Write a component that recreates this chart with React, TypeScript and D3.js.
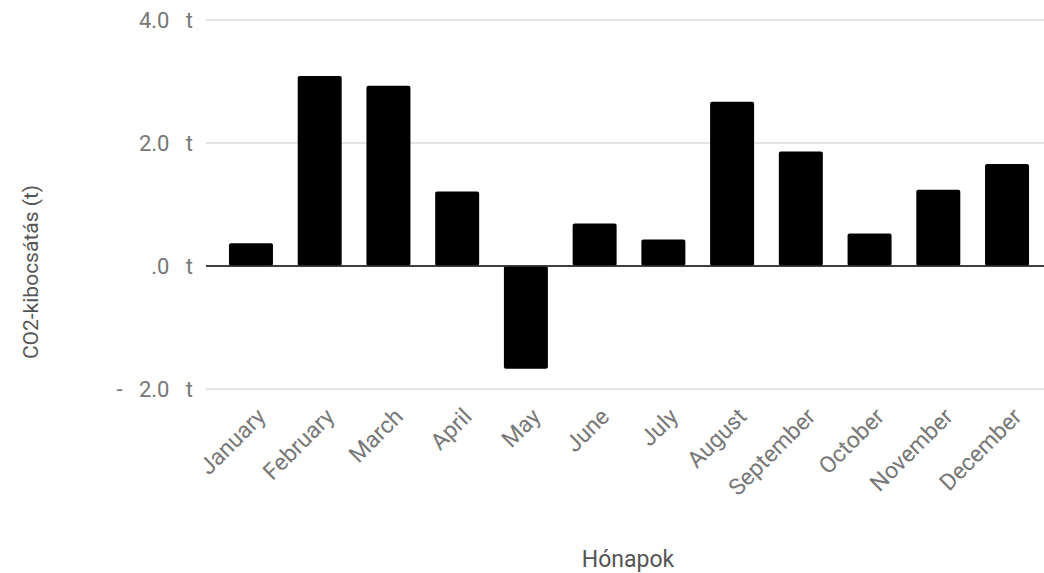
import React from "react";
import * as d3 from "d3";

const months = ["January","February","March","April","May","June","July","August","September","October","November","December"];
const values = [0.37, 3.09, 2.93, 1.21, -1.67, 0.69, 0.43, 2.67, 1.86, 0.53, 1.24, 1.66];
const yTicks = [-2, 0, 2, 4];
const yTickLabels = ["-   2.0   t", ".0   t", "2.0   t", "4.0   t"];
const xTitle = "Hónapok";
const yTitle = "CO2-kibocsátás (t)";

const W = 1044, H = 573;
const FONT = "Roboto, 'Noto Sans', sans-serif";

export default function App() {
  const x = d3.scaleBand<string>().domain(months).range([216.6, 1041.4]).paddingInner(0.36).paddingOuter(0.18);
  const y = d3.scaleLinear().domain([-2, 4]).range([389, 20]);
  return (
    <svg width={W} height={H} style={{ position: "absolute", left: 0, top: 0, background: "#fff" }}>
      {yTicks.map((t, i) => (
        <g key={t}>
          <line x1={206} x2={W} y1={y(t)} y2={y(t)} stroke={t === 0 ? "#333" : "#ccc"} strokeWidth={t === 0 ? 1.5 : 1.2} />
          <text x={193} y={y(t)} dy="0.36em" textAnchor="end" fontFamily={FONT} fontSize={22} fill="#777" style={{ whiteSpace: "pre" }}>{yTickLabels[i]}</text>
        </g>
      ))}
      {months.map((m, i) => {
        const v = values[i];
        const y0 = y(Math.max(0, v)), y1 = y(Math.min(0, v));
        return <rect key={m} x={x(m)} y={y0} width={x.bandwidth()} height={y1 - y0} rx={2} fill="#000" />;
      })}
      {yTicks.filter(t => t === 0).map(t => (
        <line key="zero" x1={206} x2={W} y1={y(t)} y2={y(t)} stroke="#333" strokeWidth={1.5} />
      ))}
      {months.map(m => {
        const cx = (x(m) as number) + x.bandwidth() / 2 + 16;
        const cy = 418;
        return (
          <text key={m} x={cx} y={cy} transform={`rotate(-45 ${cx} ${cy})`} textAnchor="end" fontFamily={FONT} fontSize={23} fill="#777">{m}</text>
        );
      })}
      <text x={628} y={567} textAnchor="middle" fontFamily={FONT} fontSize={23} fill="#555">{xTitle}</text>
      <text transform={`translate(38 272) rotate(-90)`} textAnchor="middle" fontFamily={FONT} fontSize={21} fill="#555">{yTitle}</text>
    </svg>
  );
}
